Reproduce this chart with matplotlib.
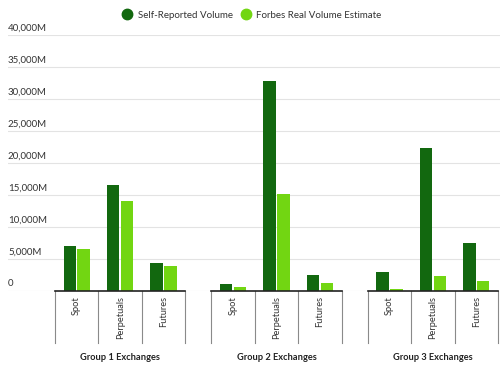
import matplotlib
matplotlib.use("Agg")
import matplotlib.pyplot as plt
import matplotlib.transforms as mtransforms
from matplotlib.lines import Line2D

plt.rcParams['font.family'] = ['Lato', 'DejaVu Sans']

groups = ["Group 1 Exchanges", "Group 2 Exchanges", "Group 3 Exchanges"]
categories = ["Spot", "Perpetuals", "Futures"]
self_reported = [7000, 16600, 4400,
                 1100, 32800, 2450,
                 2900, 22300, 7550]
forbes_real = [6500, 14000, 3950,
               600, 15200, 1300,
               300, 2300, 1550]
y_ticks = [0, 5000, 10000, 15000, 20000, 25000, 30000, 35000, 40000]
y_tick_labels = ["0", "5,000M", "10,000M", "15,000M", "20,000M",
                 "25,000M", "30,000M", "35,000M", "40,000M"]

dark = "#12680f"
light = "#72d612"
text_col = "#333333"

fig = plt.figure(figsize=(5.04, 3.66), dpi=100)
W, H = 504, 366
left_px, right_px, top_px, bottom_px = 8, 500, 35, 291
ax = fig.add_axes([left_px / W, 1 - bottom_px / H,
                   (right_px - left_px) / W, (bottom_px - top_px) / H])

gap = 0.6
cw = 1.0
bw = 0.285
off = 0.16
grp_w = 3 * cw
starts = [g * (grp_w + gap) for g in range(3)]

xs = []
for g in range(3):
    for c in range(3):
        xs.append(starts[g] + (c + 0.5) * cw)

ax.bar([x - off for x in xs], self_reported, width=bw, color=dark, zorder=3)
ax.bar([x + off for x in xs], forbes_real, width=bw, color=light, zorder=3)

ax.set_ylim(0, 40000)
xmax = starts[-1] + grp_w
px_per_unit = (498 - 55) / xmax
ax.set_xlim(-(55 - left_px) / px_per_unit, xmax + (right_px - 498) / px_per_unit)

for s in ax.spines.values():
    s.set_visible(False)
ax.set_xticks([])
ax.set_yticks([])

for yv in y_ticks:
    ax.axhline(yv, color="#e3e3e3", lw=0.8, zorder=1)

trans_y = mtransforms.blended_transform_factory(ax.transAxes, ax.transData)
offset = mtransforms.ScaledTranslation(0, 2 / 72, fig.dpi_scale_trans)
for yv, lab in zip(y_ticks, y_tick_labels):
    ax.text(0, yv, lab, transform=trans_y + offset, ha="left", va="bottom",
            fontsize=7, color=text_col)

trans_x = mtransforms.blended_transform_factory(ax.transData, ax.transAxes)
for g in range(3):
    s = starts[g]
    ax.plot([s, s + grp_w], [0, 0], transform=trans_x, color="#222222",
            lw=1.2, clip_on=False, zorder=4)
    for c in range(4):
        xv = s + c * cw
        ax.plot([xv, xv], [0, -52 / 256], transform=trans_x, color="#8a8a8a",
                lw=0.8, clip_on=False, zorder=2)
    for c in range(3):
        ax.text(s + (c + 0.5) * cw, -5 / 256, categories[c], transform=trans_x,
                rotation=90, ha="center", va="top", fontsize=6.7, color=text_col)
    ax.text(s + grp_w / 2, -66 / 256, groups[g], transform=trans_x,
            ha="center", va="center", fontsize=6.7, fontweight="bold",
            color="#222222")

handles = [Line2D([], [], marker="o", color="none", markerfacecolor=dark,
                  markeredgecolor=dark, markersize=7.5),
           Line2D([], [], marker="o", color="none", markerfacecolor=light,
                  markeredgecolor=light, markersize=7.5)]
fig.legend(handles, ["Self-Reported Volume", "Forbes Real Volume Estimate"],
           loc="center", bbox_to_anchor=(0.5, 1 - 15 / H), ncol=2,
           frameon=False, fontsize=7, handletextpad=0.6, columnspacing=0.8,
           handlelength=1.0, labelcolor=text_col)

fig.savefig("out.png", dpi=100)
